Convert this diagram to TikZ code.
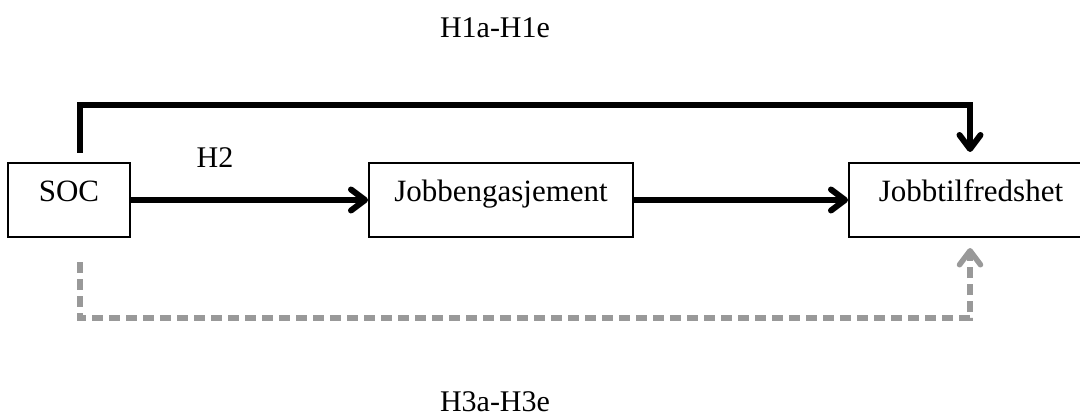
\documentclass[tikz,border=0pt]{standalone}
\usepackage{fontspec}
\setmainfont{Liberation Serif}
\usetikzlibrary{arrows.meta}
\definecolor{arrowgray}{RGB}{153,153,153}
\tikzset{
  box/.style={draw, line width=2pt, inner sep=0pt, minimum height=74pt,
    font=\fontsize{31}{36}\selectfont, text height=0.6em, text depth=0.25em},
  lbl/.style={font=\fontsize{30}{34}\selectfont, anchor=base, inner sep=0pt},
  arr/.style={line width=6pt, -{Straight Barb[length=14pt,width=21pt,round]}},
  grayarr/.style={line width=5.5pt, color=arrowgray, dash pattern=on 11pt off 6pt,
    -{Straight Barb[length=14pt,width=21pt,round]}}
}
\begin{document}
\begin{tikzpicture}[x=1pt,y=-1pt]
\useasboundingbox (0,0) rectangle (1080,417);
\node[box, minimum width=122pt] (soc) at (69,200) {SOC};
\node[box, minimum width=264pt] (eng) at (501,200) {Jobbengasjement};
\node[box, minimum width=244pt] (tilf) at (971,200) {Jobbtilfredshet};
\node[lbl] (h1) at (495,38) {H1a-H1e};
\node[lbl] (h2) at (215,168) {H2};
\node[lbl] (h3) at (495,411) {H3a-H3e};
\coordinate (t1) at (80,153);
\coordinate (t2) at (970,152);
\coordinate (g1) at (80,262);
\coordinate (g2) at (970,248);
\draw[arr] (soc.east) -- (eng.west);
\draw[arr] (eng.east) -- (tilf.west);
\draw[arr] (t1) -- (80,105) -| (t2);
\draw[grayarr] (g1) -- (80,318) -| (g2);
\end{tikzpicture}
\end{document}
